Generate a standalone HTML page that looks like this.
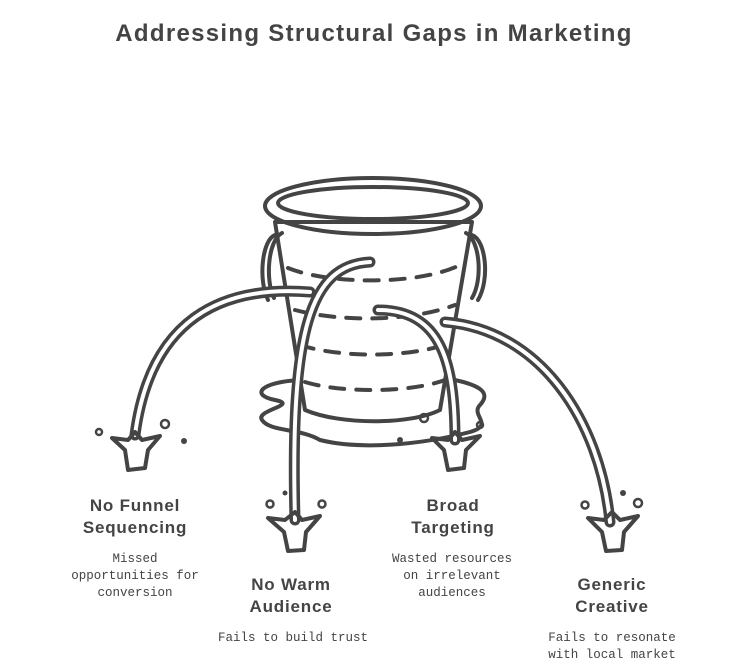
<!DOCTYPE html>
<html><head><style>
body{margin:0;background:#fff;width:743px;height:672px;overflow:hidden}
svg{display:block}
.t{font-family:"Liberation Sans",sans-serif;font-weight:bold;fill:#444;text-anchor:middle;letter-spacing:0.8px}
.d{font-family:"Liberation Mono",monospace;font-size:12.5px;fill:#444;text-anchor:middle}
.s{fill:none;stroke:#444;stroke-width:4;stroke-linecap:round;stroke-linejoin:round}
.pipe{fill:none;stroke:#444;stroke-width:11;stroke-linecap:round}
.pin{fill:none;stroke:#fff;stroke-width:4;stroke-linecap:round}
</style></head><body>
<svg width="743" height="672" viewBox="0 0 743 672">
<text class="t" x="374" y="41" font-size="24" style="letter-spacing:1.3px">Addressing Structural Gaps in Marketing</text>
<path class="s" stroke-width="3" d="M300,380 C260,382 250,395 275,400 C300,405 255,410 262,420 C270,432 300,428 320,440 C360,450 420,445 470,432 C495,425 470,415 480,405 C492,392 478,385 455,380"/>
<path class="s" d="M275,235 C262,240 258,280 268,300 M282,233 C268,240 265,280 274,298"/>
<path class="s" d="M472,235 C486,240 490,280 478,300 M466,233 C480,240 483,280 472,298"/>
<path class="s" fill="#fff" d="M275,222 L305,410 C340,425 410,425 440,410 L472,222 Z"/>
<path class="s" stroke-dasharray="14,12" d="M288,268 C330,285 420,285 460,265"/>
<path class="s" stroke-dasharray="14,12" d="M295,310 C340,322 410,322 455,305"/>
<path class="s" stroke-dasharray="14,12" d="M300,345 C340,358 410,358 450,343"/>
<path class="s" stroke-dasharray="14,12" d="M305,382 C340,393 410,393 445,380"/>
<ellipse class="s" fill="#fff" stroke-width="5" cx="373" cy="206" rx="108" ry="28"/>
<ellipse class="s" stroke-width="4.5" cx="373" cy="203" rx="95" ry="16"/>
<g>
<path class="pipe" d="M310,292 C220,285 150,320 135,435"/><path class="pin" d="M310,292 C220,285 150,320 135,435"/>
<path class="pipe" d="M370,262 C310,265 290,330 295,520"/><path class="pin" d="M370,262 C310,265 290,330 295,520"/>
<path class="pipe" d="M378,310 C440,310 455,360 455,440"/><path class="pin" d="M378,310 C440,310 455,360 455,440"/>
<path class="pipe" d="M445,322 C540,330 600,420 610,522"/><path class="pin" d="M445,322 C540,330 600,420 610,522"/>
</g>
<g class="s" stroke-width="3" fill="#fff">
<path d="M112,438 L128,440 L135,432 L142,440 L160,436 L148,450 L145,468 L128,470 L125,450 Z"/>
<path d="M268,518 L285,520 L295,512 L302,520 L320,516 L306,532 L304,550 L288,551 L284,532 Z"/>
<path d="M432,438 L448,440 L455,432 L462,440 L480,436 L466,450 L464,468 L448,470 L444,450 Z"/>
<path d="M588,518 L604,520 L612,512 L620,520 L638,516 L624,532 L622,550 L606,551 L602,532 Z"/>
</g>
<g fill="none" stroke="#444" stroke-width="2.5">
<circle cx="99" cy="432" r="3"/><circle cx="165" cy="424" r="4"/><circle cx="270" cy="504" r="3.5"/><circle cx="322" cy="504" r="3.5"/>
<circle cx="424" cy="418" r="4"/><circle cx="480" cy="425" r="3"/><circle cx="585" cy="505" r="3.5"/><circle cx="638" cy="503" r="4"/>
</g>
<g fill="#444"><circle cx="184" cy="441" r="3"/><circle cx="285" cy="493" r="2.5"/><circle cx="623" cy="493" r="3"/><circle cx="400" cy="440" r="3"/></g>
<text class="t" x="135" y="511" font-size="17">No Funnel</text>
<text class="t" x="135" y="533" font-size="17">Sequencing</text>
<text class="d" x="135" y="562">Missed</text>
<text class="d" x="135" y="579">opportunities for</text>
<text class="d" x="135" y="596">conversion</text>
<text class="t" x="291" y="590" font-size="17">No Warm</text>
<text class="t" x="291" y="612" font-size="17">Audience</text>
<text class="d" x="293" y="641">Fails to build trust</text>
<text class="t" x="453" y="511" font-size="17">Broad</text>
<text class="t" x="453" y="533" font-size="17">Targeting</text>
<text class="d" x="452" y="562">Wasted resources</text>
<text class="d" x="452" y="579">on irrelevant</text>
<text class="d" x="452" y="596">audiences</text>
<text class="t" x="612" y="590" font-size="17">Generic</text>
<text class="t" x="612" y="612" font-size="17">Creative</text>
<text class="d" x="612" y="641">Fails to resonate</text>
<text class="d" x="612" y="658">with local market</text>
</svg>
</body></html>
